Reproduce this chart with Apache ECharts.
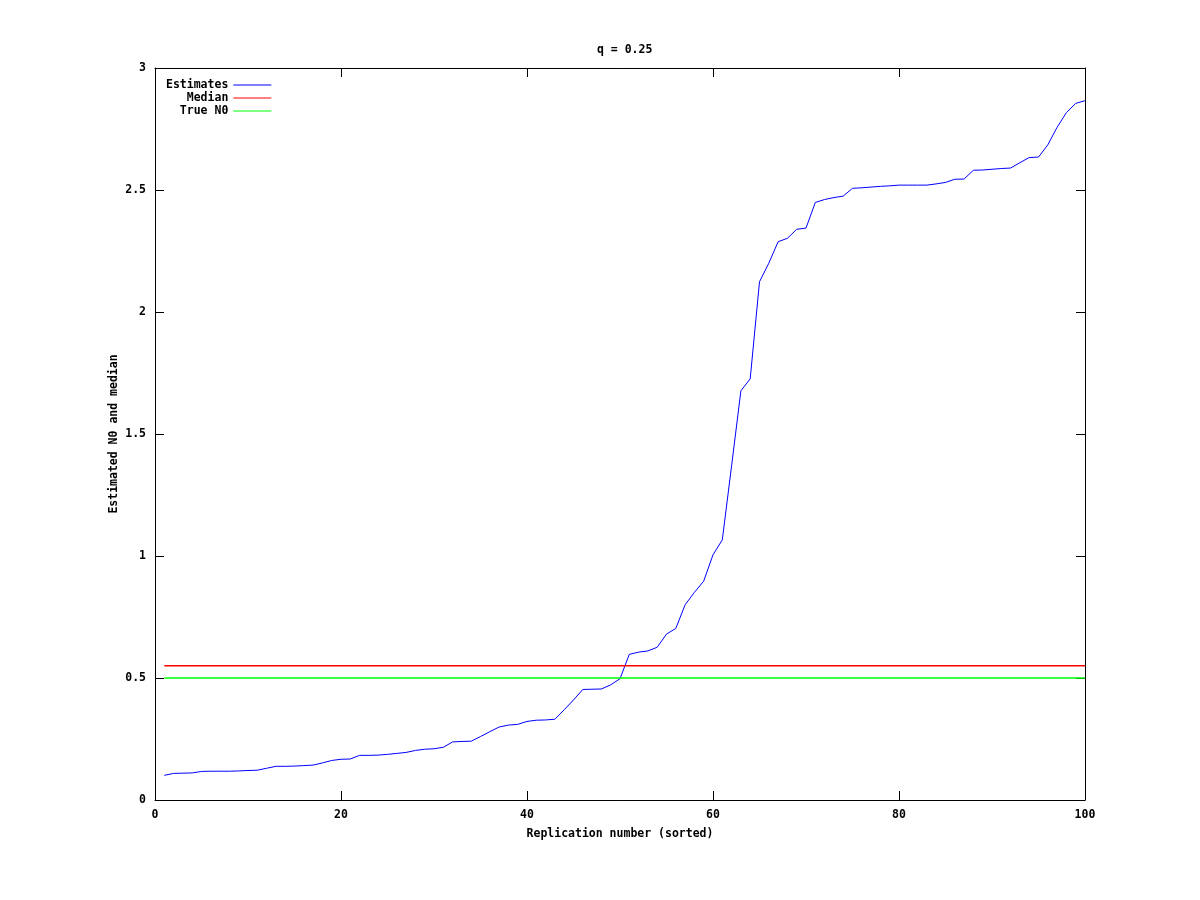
<!DOCTYPE html>
<html>
<head>
<meta charset="utf-8">
<script src="https://cdn.jsdelivr.net/npm/echarts@6/dist/echarts.min.js"></script>
<style>
html,body{margin:0;padding:0;background:#fff;}
#chart{width:1200px;height:900px;}
</style>
</head>
<body>
<div id="chart"></div>
<script>
const titleText = 'q = 0.25';
const xName = 'Replication number (sorted)';
const yName = 'Estimated N0 and median';
const seriesNames = ['Estimates', 'Median', 'True N0'];
const estimates = [
  0.101, 0.109, 0.110, 0.111, 0.117, 0.118, 0.118, 0.118, 0.119, 0.121,
  0.122, 0.130, 0.138, 0.138, 0.139, 0.141, 0.143, 0.152, 0.162, 0.167,
  0.168, 0.183, 0.183, 0.184, 0.187, 0.191, 0.195, 0.203, 0.208, 0.210,
  0.216, 0.238, 0.240, 0.241, 0.260, 0.280, 0.299, 0.307, 0.310, 0.322,
  0.327, 0.328, 0.331, 0.370, 0.410, 0.453, 0.454, 0.455, 0.472, 0.497,
  0.597, 0.606, 0.611, 0.626, 0.680, 0.703, 0.800, 0.851, 0.897, 1.005,
  1.066, 1.370, 1.677, 1.726, 2.124, 2.200, 2.288, 2.302, 2.339, 2.344,
  2.449, 2.461, 2.469, 2.475, 2.507, 2.509, 2.512, 2.515, 2.517, 2.520,
  2.520, 2.520, 2.520, 2.525, 2.531, 2.544, 2.545, 2.581, 2.582, 2.585,
  2.588, 2.590, 2.612, 2.633, 2.635, 2.685, 2.757, 2.817, 2.855, 2.866
];
const medianValue = 0.55;
const trueN0 = 0.5;
const firstRep = 1;
const lastRep = 100;

const font = 'DejaVu Sans Mono';
const txt = {fontFamily: font, fontWeight: 'bold', fontSize: 11.5, color: '#000'};

const estData = estimates.map((v, i) => [firstRep + i, v]);

const chart = echarts.init(document.getElementById('chart'), null, {renderer: 'canvas'});
const axisLine = {show: true, onZero: false, lineStyle: {color: '#000', width: 1}};
const tick = {show: true, inside: true, length: 9, lineStyle: {color: '#000', width: 1}};
chart.setOption({
  animation: false,
  backgroundColor: '#fff',
  title: {
    text: titleText, left: 592, top: 39,
    textStyle: Object.assign({}, txt)
  },
  legend: {
    orient: 'vertical', left: 161, top: 74, align: 'right',
    icon: 'rect', itemWidth: 38, itemHeight: 1, itemGap: 1,
    textStyle: Object.assign({}, txt, {lineHeight: 11}),
    data: seriesNames
  },
  grid: {left: 155, right: 115, top: 68, bottom: 100, containLabel: false},
  xAxis: [{
    type: 'value', min: 0, max: 100, interval: 20,
    name: xName, nameLocation: 'middle', nameGap: 28, nameMoveOverlap: false,
    nameTextStyle: Object.assign({}, txt),
    axisLine: axisLine, axisTick: tick,
    axisLabel: Object.assign({margin: 9}, txt),
    splitLine: {show: false}
  }, {
    type: 'value', min: 0, max: 100, interval: 20, position: 'top',
    axisLine: axisLine, axisTick: tick, axisLabel: {show: false},
    splitLine: {show: false}
  }],
  yAxis: [{
    type: 'value', min: 0, max: 3, interval: 0.5,
    name: yName, nameLocation: 'middle', nameGap: 35, nameRotate: 90, nameMoveOverlap: false,
    nameTextStyle: Object.assign({}, txt),
    axisLine: axisLine, axisTick: tick,
    axisLabel: Object.assign({margin: 9}, txt),
    splitLine: {show: false}
  }, {
    type: 'value', min: 0, max: 3, interval: 0.5, position: 'right',
    axisLine: axisLine, axisTick: tick, axisLabel: {show: false},
    splitLine: {show: false}
  }],
  series: [{
    name: seriesNames[0], type: 'line', data: estData,
    symbol: 'none', color: '#0000ff',
    lineStyle: {color: '#0000ff', width: 1}
  }, {
    name: seriesNames[1], type: 'line',
    data: [[firstRep, medianValue], [lastRep, medianValue]],
    symbol: 'none', color: '#ff0000',
    lineStyle: {color: '#ff0000', width: 1.5}
  }, {
    name: seriesNames[2], type: 'line',
    data: [[firstRep, trueN0], [lastRep, trueN0]],
    symbol: 'none', color: '#00ff00',
    lineStyle: {color: '#00ff00', width: 1.5}
  }]
});
</script>
</body>
</html>
